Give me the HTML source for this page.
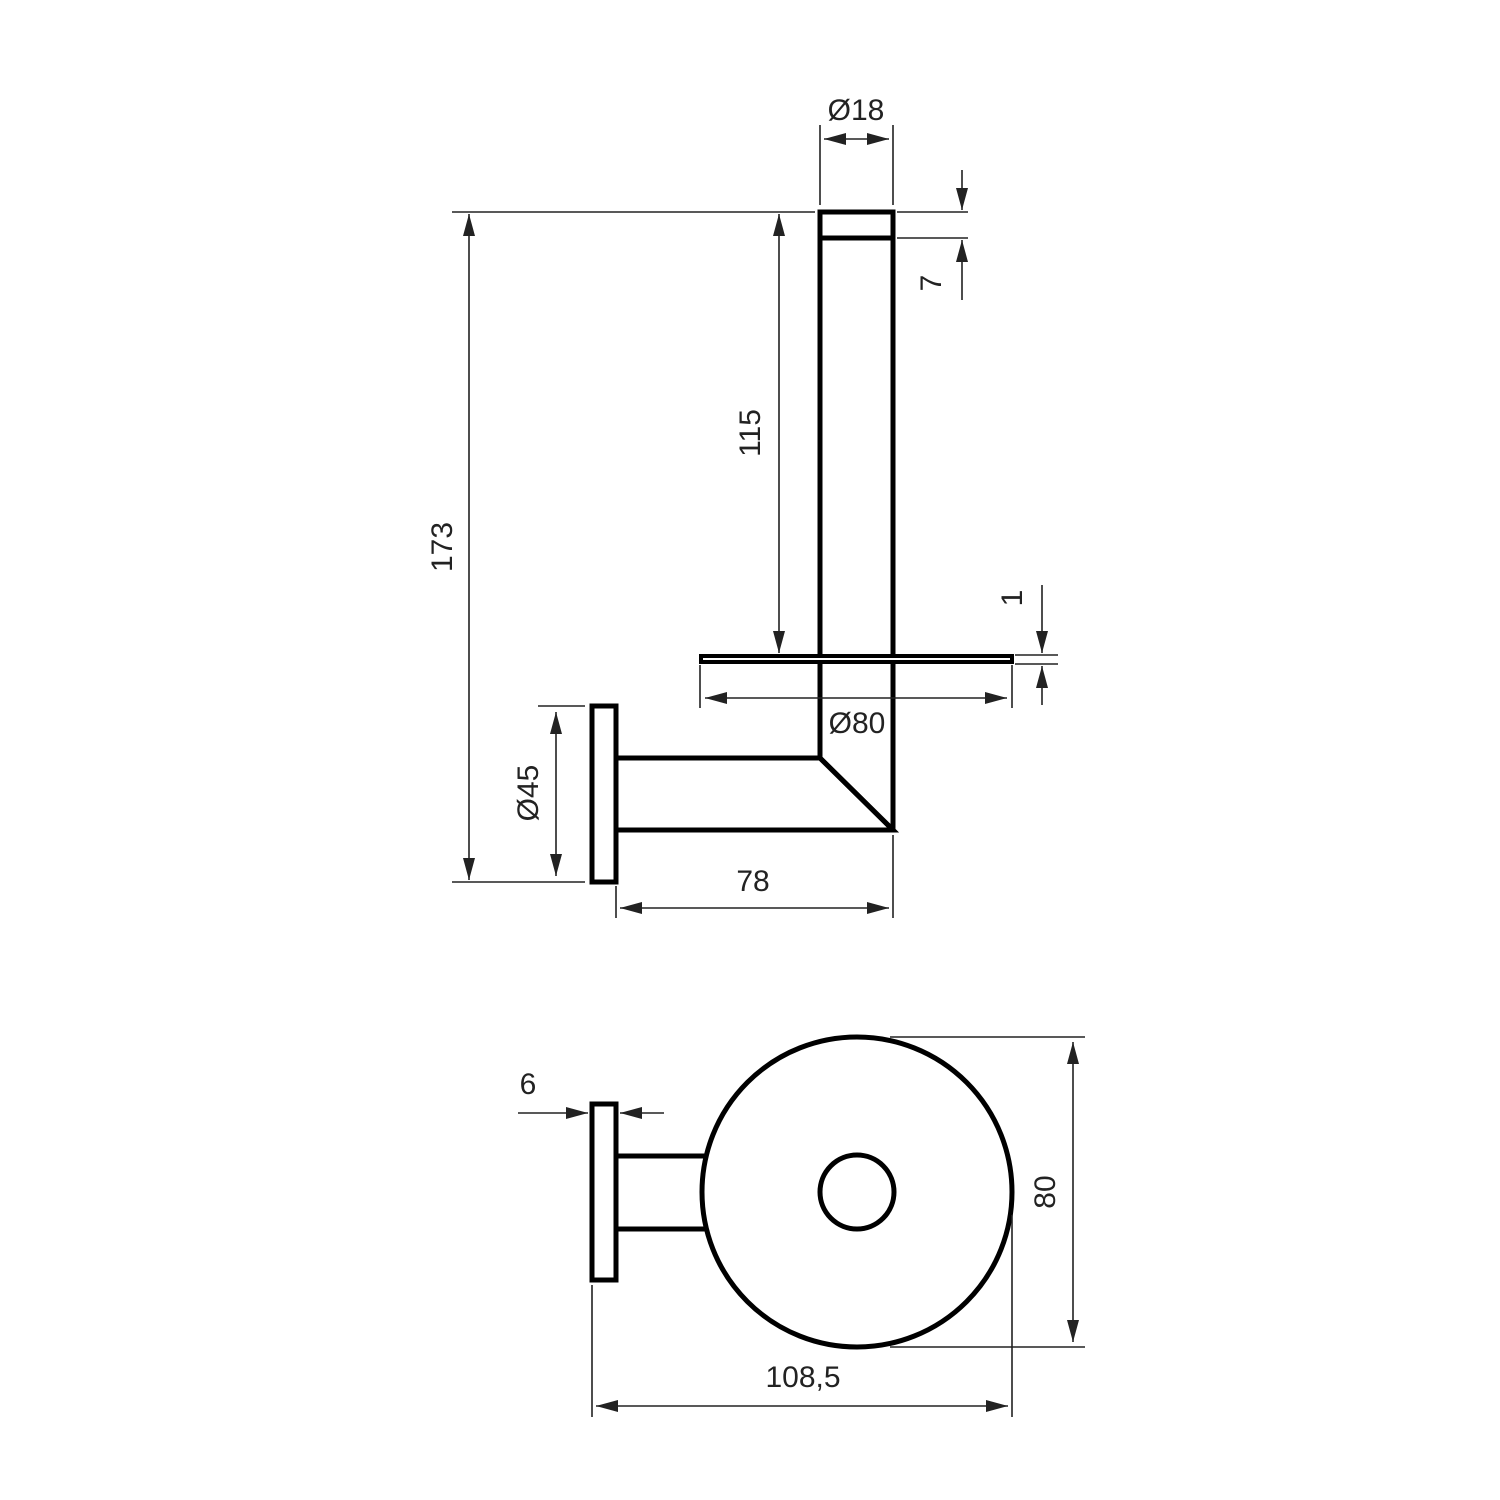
<!DOCTYPE html>
<html><head><style>html,body{margin:0;padding:0;background:#fff}svg{display:block}text{font-family:"Liberation Sans",sans-serif;font-size:30px;fill:#222}</style></head>
<body>
<svg width="1500" height="1500" viewBox="0 0 1500 1500" xmlns="http://www.w3.org/2000/svg">
<defs>
<marker id="a" viewBox="0 0 22 12" refX="22" refY="6" markerWidth="22" markerHeight="12" markerUnits="userSpaceOnUse" orient="auto-start-reverse"><path d="M0,0 L22,6 L0,12 z" fill="#222"/></marker>
</defs>
<g fill="none" stroke="#000" stroke-width="5" stroke-linejoin="miter">
<rect x="820" y="212" width="73" height="618" fill="#fff"/>
<line x1="820" y1="238" x2="893" y2="238"/>
<rect x="701" y="656" width="311" height="6" fill="#fff" stroke-width="4"/>
<path d="M617,758 L820,758 L893,830 L617,830" fill="#fff"/>
<line x1="820" y1="758" x2="893" y2="830"/>
<rect x="592" y="706" width="24" height="176" fill="#fff"/>
<circle cx="857" cy="1192" r="155" fill="#fff"/>
<circle cx="857" cy="1192" r="37"/>
<rect x="592" y="1104" width="24" height="176" fill="#fff"/>
<line x1="616" y1="1156" x2="706" y2="1156"/>
<line x1="616" y1="1229" x2="706" y2="1229"/>
</g>
<g stroke="#222" stroke-width="1.6" fill="none">
<line x1="452" y1="212" x2="815" y2="212"/>
<line x1="452" y1="882" x2="585" y2="882"/>
<line x1="469" y1="214" x2="469" y2="880" marker-start="url(#a)" marker-end="url(#a)"/>
<line x1="779" y1="214" x2="779" y2="653" marker-start="url(#a)" marker-end="url(#a)"/>
<line x1="820" y1="125" x2="820" y2="205"/>
<line x1="893" y1="125" x2="893" y2="205"/>
<line x1="824" y1="139" x2="889" y2="139" marker-start="url(#a)" marker-end="url(#a)"/>
<line x1="897" y1="212" x2="968" y2="212"/>
<line x1="897" y1="238" x2="968" y2="238"/>
<line x1="962" y1="170" x2="962" y2="210" marker-end="url(#a)"/>
<line x1="962" y1="300" x2="962" y2="240" marker-end="url(#a)"/>
<line x1="1015" y1="655" x2="1058" y2="655"/>
<line x1="1015" y1="664" x2="1058" y2="664"/>
<line x1="1042" y1="585" x2="1042" y2="653" marker-end="url(#a)"/>
<line x1="1042" y1="705" x2="1042" y2="666" marker-end="url(#a)"/>
<line x1="700" y1="665" x2="700" y2="708"/>
<line x1="1012" y1="665" x2="1012" y2="708"/>
<line x1="705" y1="698" x2="1007" y2="698" marker-start="url(#a)" marker-end="url(#a)"/>
<line x1="538" y1="706" x2="585" y2="706"/>
<line x1="556" y1="712" x2="556" y2="876" marker-start="url(#a)" marker-end="url(#a)"/>
<line x1="893" y1="835" x2="893" y2="918"/>
<line x1="616" y1="886" x2="616" y2="918"/>
<line x1="620" y1="908" x2="889" y2="908" marker-start="url(#a)" marker-end="url(#a)"/>
<line x1="518" y1="1113" x2="588" y2="1113" marker-end="url(#a)"/>
<line x1="664" y1="1113" x2="620" y2="1113" marker-end="url(#a)"/>
<line x1="890" y1="1037" x2="1085" y2="1037"/>
<line x1="890" y1="1347" x2="1085" y2="1347"/>
<line x1="1073" y1="1042" x2="1073" y2="1342" marker-start="url(#a)" marker-end="url(#a)"/>
<line x1="592" y1="1285" x2="592" y2="1417"/>
<line x1="1012" y1="1215" x2="1012" y2="1417"/>
<line x1="596" y1="1406" x2="1008" y2="1406" marker-start="url(#a)" marker-end="url(#a)"/>
</g>
<text x="856" y="120" text-anchor="middle">Ø18</text>
<text x="857" y="733" text-anchor="middle">Ø80</text>
<text x="753" y="891" text-anchor="middle">78</text>
<text x="528" y="1094" text-anchor="middle">6</text>
<text x="803" y="1387" text-anchor="middle">108,5</text>
<text transform="translate(452,547) rotate(-90)" text-anchor="middle">173</text>
<text transform="translate(760,433) rotate(-90)" text-anchor="middle">115</text>
<text transform="translate(941,283) rotate(-90)" text-anchor="middle">7</text>
<text transform="translate(1022,598) rotate(-90)" text-anchor="middle">1</text>
<text transform="translate(538,793) rotate(-90)" text-anchor="middle">Ø45</text>
<text transform="translate(1055,1192) rotate(-90)" text-anchor="middle">80</text>
</svg>
</body></html>
